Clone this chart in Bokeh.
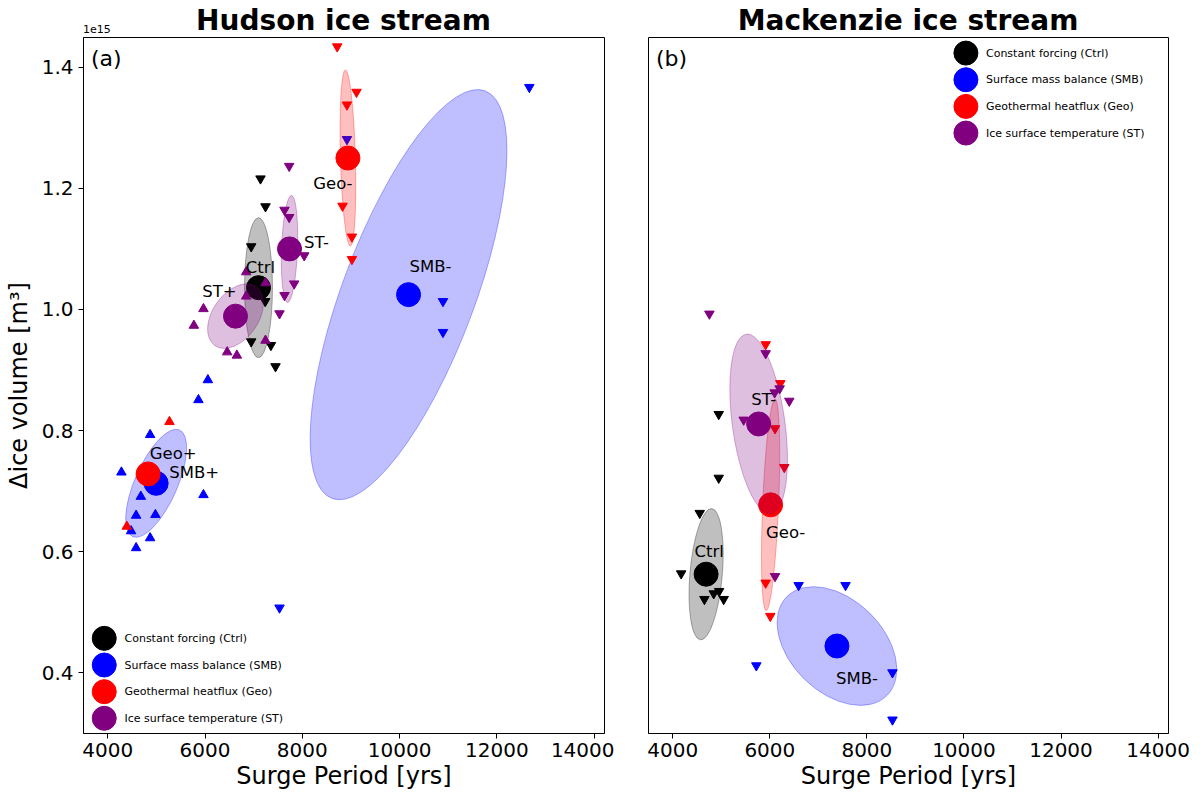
import numpy as np
from bokeh.plotting import figure
from bokeh.models import Range1d, Label, FixedTicker, PrintfTickFormatter, Div
from bokeh.layouts import row, column
from bokeh.embed import file_html
from bokeh.resources import INLINE
from bokeh.core.properties import value

FONT = "DejaVu Sans"

# ---------------- axes ----------------
X_LIM = (3500, 14215)            # surge period [yrs]
Y_LIM = (0.300, 1.449)           # ice volume change [1e15 m^3]
X_TICKS = [4000, 6000, 8000, 10000, 12000, 14000]
Y_TICKS = [0.4, 0.6, 0.8, 1.0, 1.2, 1.4]

GROUP_COLORS = {"Ctrl": "black", "SMB": "blue", "Geo": "red", "ST": "purple"}
LEGEND_LABELS = ["Constant forcing (Ctrl)", "Surface mass balance (SMB)",
                 "Geothermal heatflux (Geo)", "Ice surface temperature (ST)"]
LEGEND_COLORS = ["black", "blue", "red", "purple"]
TITLES = ["Hudson ice stream", "Mackenzie ice stream"]

# ---------------- Hudson ice stream (a) ----------------
hud_ctrl_x = [7140, 7243, 6949, 7237, 6949, 7354, 7449]
hud_ctrl_y = [1.216, 1.170, 1.104, 1.0135, 0.947, 0.941, 0.906]
hud_ctrl_mean = (7099, 1.036)

hud_smbm_x = [8918, 12669, 10893, 10893, 7531]
hud_smbm_y = [1.281, 1.367, 1.0135, 0.9625, 0.5076]
hud_smbm_mean = (10185, 1.0245)

hud_smbp_x = [6058, 5864, 4870, 4280, 4679, 5967, 4582, 4979, 4479, 4870, 4582]
hud_smbp_y = [0.8836, 0.8507, 0.7931, 0.7312, 0.6911, 0.6939, 0.6599, 0.661, 0.6342, 0.6227, 0.6063]
hud_smbp_mean = (4994, 0.713)

hud_geom_x = [8718, 9115, 8918, 8827, 9021, 9021]
hud_geom_y = [1.434, 1.359, 1.338, 1.171, 1.120, 1.083]
hud_geom_mean = (8938, 1.250)

hud_geop_x = [5268, 4391]
hud_geop_y = [0.8145, 0.6418]
hud_geop_mean = (4829, 0.7285)

hud_stm_x = [7730, 7634, 7730, 8039, 7833, 7634, 7531]
hud_stm_y = [1.2367, 1.1643, 1.1523, 1.0891, 1.0426, 1.0234, 0.9933]
hud_stm_mean = (7737, 1.100)

hud_stp_x = [6846, 7243, 6846, 5967, 5770, 7243, 6455, 6654]
hud_stp_y = [1.0618, 1.0437, 1.0217, 1.001, 0.9735, 0.9488, 0.9296, 0.9242]
hud_stp_mean = (6626, 0.989)

# spread ellipses: (width [yrs], height [1e15 m^3], angle [deg])
hud_ctrl_ell = (2881, 0.0461, 90.0)
hud_smbm_ell = (8955, 0.218, 69.4)
hud_smbp_ell = (2395, 0.0703, 66.3)
hud_geom_ell = (3621, 0.0247, 91.6)
hud_stm_ell = (2202, 0.0263, 87.9)
hud_stp_ell = (1481, 0.0757, 55.0)

# ---------------- Mackenzie ice stream (b) ----------------
mac_ctrl_x = [4947, 4947, 4556, 4173, 4652, 4844, 4955, 5049]
mac_ctrl_y = [0.8271, 0.7219, 0.6638, 0.564, 0.5217, 0.5311, 0.5349, 0.5217]
mac_ctrl_mean = (4687, 0.563)

mac_smbm_x = [6593, 7560, 5722, 8527, 8527]
mac_smbm_y = [0.5447, 0.5447, 0.4122, 0.4007, 0.3227]
mac_smbm_mean = (7383, 0.4444)

mac_geom_x = [5914, 6216, 6107, 6298, 5914, 6010]
mac_geom_y = [0.9423, 0.8781, 0.8036, 0.7395, 0.5487, 0.4938]
mac_geom_mean = (6016, 0.6775)

mac_stm_x = [4755, 5914, 6202, 6099, 6401, 5461, 6107]
mac_stm_y = [0.9928, 0.9275, 0.8694, 0.8628, 0.849, 0.8178, 0.5595]
mac_stm_mean = (5770, 0.811)

mac_ctrl_ell = (2716, 0.0536, 85.1)
mac_smbm_ell = (2899, 0.1535, -44.4)
mac_geom_ell = (4362, 0.0263, 87.6)
mac_stm_ell = (3735, 0.0868, 97.8)

# experiment tables (group, marker, points, mean, ellipse, label, label offset px)
hudson = [
    ("Ctrl", "inverted_triangle", hud_ctrl_x, hud_ctrl_y, hud_ctrl_mean, hud_ctrl_ell, "Ctrl", (2, -20)),
    ("SMB", "inverted_triangle", hud_smbm_x, hud_smbm_y, hud_smbm_mean, hud_smbm_ell, "SMB-", (22, -28)),
    ("SMB", "triangle", hud_smbp_x, hud_smbp_y, hud_smbp_mean, hud_smbp_ell, "SMB+", (38, -11)),
    ("Geo", "inverted_triangle", hud_geom_x, hud_geom_y, hud_geom_mean, hud_geom_ell, "Geo-", (-15, 25)),
    ("Geo", "triangle", hud_geop_x, hud_geop_y, hud_geop_mean, None, "Geo+", (25, -20)),
    ("ST", "inverted_triangle", hud_stm_x, hud_stm_y, hud_stm_mean, hud_stm_ell, "ST-", (27, -6)),
    ("ST", "triangle", hud_stp_x, hud_stp_y, hud_stp_mean, hud_stp_ell, "ST+", (-16, -25)),
]
mackenzie = [
    ("Ctrl", "inverted_triangle", mac_ctrl_x, mac_ctrl_y, mac_ctrl_mean, mac_ctrl_ell, "Ctrl", (3, -23)),
    ("SMB", "inverted_triangle", mac_smbm_x, mac_smbm_y, mac_smbm_mean, mac_smbm_ell, "SMB-", (20, 32)),
    ("Geo", "inverted_triangle", mac_geom_x, mac_geom_y, mac_geom_mean, mac_geom_ell, "Geo-", (15, 28)),
    ("ST", "inverted_triangle", mac_stm_x, mac_stm_y, mac_stm_mean, mac_stm_ell, "ST-", (5, -24)),
]

HEADER_H = 35
FIG_H = 757
FRAME_H = 697


def make_fig(width, left, right, show_y):
    p = figure(width=width, height=FIG_H, output_backend="svg", toolbar_location=None,
               x_range=Range1d(*X_LIM), y_range=Range1d(*Y_LIM),
               min_border_left=left, min_border_right=right,
               min_border_top=2, min_border_bottom=58)
    p.xgrid.visible = False
    p.ygrid.visible = False
    p.outline_line_color = "black"
    p.outline_line_alpha = 1
    p.outline_line_width = 1
    p.background_fill_color = "white"
    p.border_fill_color = "white"
    for ax in (p.xaxis[0], p.yaxis[0]):
        ax.axis_line_color = "black"
        ax.major_tick_line_color = "black"
        ax.major_tick_out = 5
        ax.major_tick_in = 0
        ax.minor_tick_line_color = None
        ax.major_label_text_font = FONT
        ax.major_label_text_font_size = "20px"
        ax.major_label_text_color = "black"
        ax.axis_label_text_font = FONT
        ax.axis_label_text_font_size = "24px"
        ax.axis_label_text_font_style = "normal"
        ax.axis_label_text_color = "black"
    p.xaxis.ticker = FixedTicker(ticks=X_TICKS)
    p.xaxis.formatter = PrintfTickFormatter(format="%d")
    p.xaxis.axis_label = "Surge Period [yrs]"
    p.xaxis.major_label_standoff = 4
    p.xaxis.axis_label_standoff = 2
    p.yaxis.ticker = FixedTicker(ticks=Y_TICKS)
    p.yaxis.formatter = PrintfTickFormatter(format="%.1f")
    p.yaxis.major_label_standoff = 5
    p.yaxis.axis_label_standoff = 6
    if show_y:
        p.yaxis.axis_label = "\u0394ice volume [m\u00b3]"
    else:
        p.yaxis.visible = False
    return p


def draw(p, table):
    for grp, marker, xs, ys, mean, ell, lab, off in table:
        c = GROUP_COLORS[grp]
        p.scatter(xs, ys, marker=marker, size=9.5, fill_color=c, line_color=c)
        p.scatter([mean[0]], [mean[1]], marker="circle", size=24, fill_color=c, line_color=c)
        if ell is not None:
            p.ellipse(x=[mean[0]], y=[mean[1]], width=[ell[0]], height=[ell[1]],
                      angle=[np.deg2rad(ell[2])], fill_color=c, fill_alpha=0.25,
                      line_color=c, line_alpha=0.3, line_width=1)
    for grp, marker, xs, ys, mean, ell, lab, off in table:
        p.text(x=[mean[0]], y=[mean[1]], text=[lab], x_offset=[off[0]], y_offset=[off[1]],
               text_align="center", text_baseline="middle", text_font=value(FONT),
               text_font_size="16.5px", text_color="black")


def legend(p, fx_c, fx_t, fy0, dy):
    xw = X_LIM[1] - X_LIM[0]
    yh = Y_LIM[1] - Y_LIM[0]
    for i, (c, lab) in enumerate(zip(LEGEND_COLORS, LEGEND_LABELS)):
        fy = fy0 - i * dy
        p.scatter([X_LIM[0] + fx_c * xw], [Y_LIM[0] + fy * yh], marker="circle", size=24,
                  fill_color=c, line_color=c)
        p.text(x=[X_LIM[0] + fx_t * xw], y=[Y_LIM[0] + fy * yh], text=[lab],
               text_align="left", text_baseline="middle", text_font=value(FONT),
               text_font_size="11px", text_color="black")


def tag(p, text):
    p.add_layout(Label(x=7.5, y=FRAME_H - 22, x_units="screen", y_units="screen",
                       text=text, text_align="left", text_baseline="middle",
                       text_font=FONT, text_font_size="22px", text_color="black"))


p1 = make_fig(614, 83, 10, True)
draw(p1, hudson)
legend(p1, 0.0398, 0.0787, 0.1367, 0.0383)
tag(p1, "(a)")

p2 = make_fig(586, 34, 32, False)
draw(p2, mackenzie)
legend(p2, 0.6104, 0.649, 0.9776, 0.0383)
tag(p2, "(b)")

span = ("position:absolute;white-space:nowrap;color:black;font-family:'DejaVu Sans';")
header_html = (
    f'<div style="position:relative;width:1200px;height:{HEADER_H}px;">'
    f'<span style="{span}left:{83 + 521 / 2}px;top:7px;transform:translateX(-50%);'
    f'font-size:28px;line-height:28px;font-weight:bold;">{TITLES[0]}</span>'
    f'<span style="{span}left:{648 + 520 / 2}px;top:7px;transform:translateX(-50%);'
    f'font-size:28px;line-height:28px;font-weight:bold;">{TITLES[1]}</span>'
    f'<span style="{span}left:83px;top:24px;font-size:11px;line-height:11px;">1e15</span>'
    '</div>'
)
header = Div(text=header_html, width=1200, height=HEADER_H, margin=0)

layout = column(header, row(p1, p2))
open("out.html", "w").write(file_html(layout, INLINE))
